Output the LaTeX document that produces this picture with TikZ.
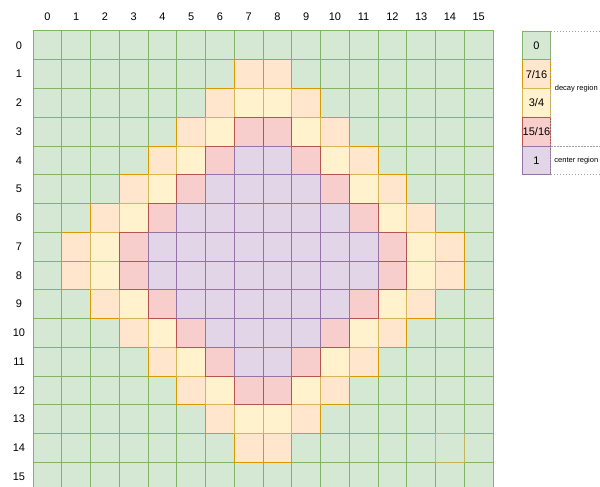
\documentclass[tikz,border=0pt]{standalone}
\usepackage{fontspec}
\setmainfont{Liberation Sans}
\usetikzlibrary{positioning}
\definecolor{zerofill}{HTML}{D5E8D4}
\definecolor{zeroline}{HTML}{82B366}
\definecolor{lowfill}{HTML}{FFE6CC}
\definecolor{lowline}{HTML}{D79B00}
\definecolor{midfill}{HTML}{FFF2CC}
\definecolor{midline}{HTML}{D6B656}
\definecolor{highfill}{HTML}{F8CECC}
\definecolor{highline}{HTML}{B85450}
\definecolor{corefill}{HTML}{E1D5E7}
\definecolor{coreline}{HTML}{9673A6}
\definecolor{dotgray}{HTML}{A0A0A0}

\begin{document}
\begin{tikzpicture}[
    x=1pt,y=-1pt,
    font=\fontsize{11}{13}\selectfont,
    cell/.style={draw,line width=1pt,minimum size=28.75pt,inner sep=0pt,outer sep=0pt,align=center},
    zero/.style={cell,fill=zerofill,draw=zeroline},
    low/.style={cell,fill=lowfill,draw=lowline},
    mid/.style={cell,fill=midfill,draw=midline},
    high/.style={cell,fill=highfill,draw=highline},
    core/.style={cell,fill=corefill,draw=coreline},
    idx/.style={inner sep=0pt},
    regbox/.style={draw=dotgray,dash pattern=on 1pt off 2pt,line width=0.8pt,minimum width=51pt,
      inner sep=0pt,outer sep=0pt,anchor=north west,font=\fontsize{7.5}{9}\selectfont}
  ]
  \useasboundingbox (0,0) rectangle (600,487);
  % index labels
  \foreach \i in {0,...,15}{
    \node[idx] (col-\i) at ({47.375+28.75*\i},17) {\i};
    \node[idx] (row-\i) at (19,{45.375+28.75*\i}) {\i};
  }
  % the grid, outer ring first so inner borders stay on top
  \foreach \lo/\hi/\kind in {16/30/zero,14/14/low,12/12/mid,10/10/high,0/8/core}{
    \foreach \r in {0,...,15}{
      \foreach \c in {0,...,15}{
        \pgfmathtruncatemacro\dist{abs(2*\c-15)+abs(2*\r-15)}
        \ifnum\dist<\lo\else\ifnum\dist>\hi\else
          \node[\kind] (c-\c-\r) at ({47.375+28.75*\c},{45.375+28.75*\r}) {};
        \fi\fi
      }
    }
  }
  \draw[midline!75!zeroline,line width=1pt] (c-14-14.north west) rectangle (c-14-14.south east);

  % legend
  \node[zero] (leg-0) at (536.5,45.4) {0};
  \node[low,below=0pt of leg-0] (leg-716) {7/16};
  \node[mid,below=0pt of leg-716] (leg-34) {3/4};
  \node[high,below=0pt of leg-34] (leg-1516) {15/16};
  \node[core,below=0pt of leg-1516] (leg-1) {1};
  \node[regbox,minimum height=115pt] (decay) at (leg-0.north east) {decay region};
  \node[regbox,minimum height=28.75pt] (center) at (leg-1.north east) {center region};
\end{tikzpicture}
\end{document}
